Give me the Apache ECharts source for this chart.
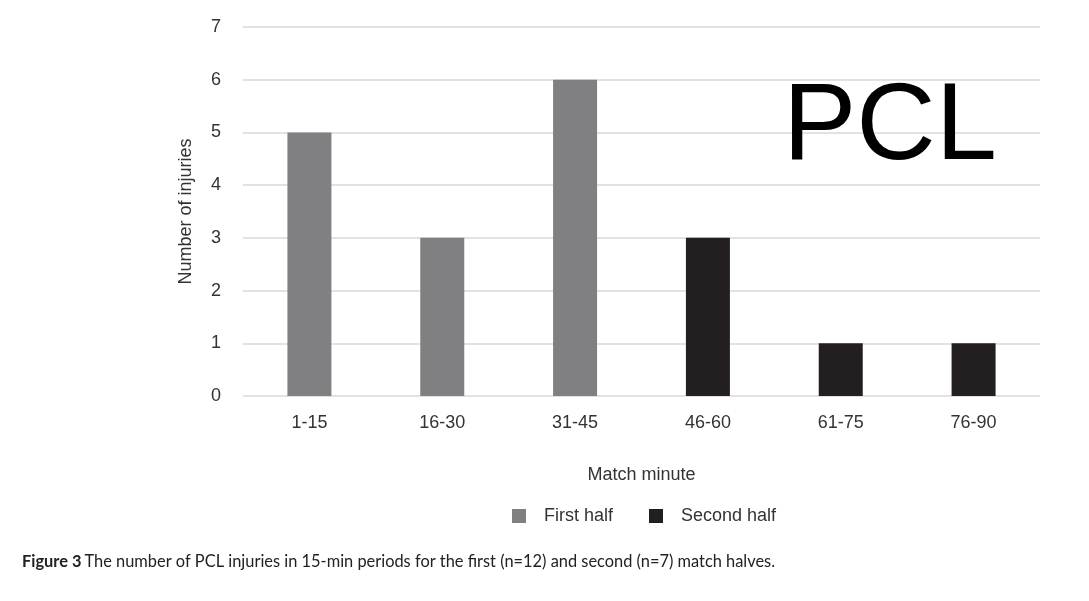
<!DOCTYPE html>
<html>
<head>
<meta charset="utf-8">
<script src="https://cdn.jsdelivr.net/npm/echarts@6/dist/echarts.min.js"></script>
<style>
html,body{margin:0;padding:0;background:#fff;}
#chart{width:1089px;height:601px;}
</style>
</head>
<body>
<div id="chart"></div>
<script>
const categories = ['1-15', '16-30', '31-45', '46-60', '61-75', '76-90'];
const firstHalf = [5, 3, 6, null, null, null];
const secondHalf = [null, null, null, 3, 1, 1];
const yTicks = [0, 1, 2, 3, 4, 5, 6, 7];

const chart = echarts.init(document.getElementById('chart'), null, {renderer: 'canvas'});
chart.setOption({
  backgroundColor: '#ffffff',
  animation: false,
  textStyle: {fontFamily: 'Liberation Sans, Arial, sans-serif'},
  grid: {left: 243, right: 49, top: 27, bottom: 205},
  legend: {
    left: 507, top: 502,
    itemWidth: 14, itemHeight: 14, itemGap: 36,
    icon: 'rect',
    textStyle: {fontSize: 18, color: '#333333', padding: [0, 0, 0, 13]},
    data: ['First half', 'Second half']
  },
  xAxis: {
    type: 'category',
    data: categories,
    name: 'Match minute',
    nameLocation: 'middle',
    nameGap: 70,
    nameTextStyle: {fontSize: 18, color: '#333333'},
    axisLine: {show: false},
    axisTick: {show: false},
    axisLabel: {fontSize: 18, color: '#333333', margin: 18}
  },
  yAxis: {
    type: 'value',
    min: yTicks[0], max: yTicks[yTicks.length - 1], interval: 1,
    name: 'Number of injuries',
    nameLocation: 'middle',
    nameGap: 48,
    nameTextStyle: {fontSize: 18, color: '#333333'},
    axisLine: {show: false},
    axisTick: {show: false},
    axisLabel: {fontSize: 18, color: '#333333', margin: 22},
    splitLine: {lineStyle: {color: '#d9d9d9', width: 1.5}}
  },
  series: [
    {name: 'First half', type: 'bar', stack: 'all', data: firstHalf, barWidth: 44,
     itemStyle: {color: '#808082'}},
    {name: 'Second half', type: 'bar', stack: 'all', data: secondHalf, barWidth: 44,
     itemStyle: {color: '#231f20'}}
  ],
  graphic: [
    {type: 'text', left: 783, top: 74, z: 10,
     style: {text: 'PCL', fontSize: 110, fill: '#000000', fontFamily: 'Liberation Sans, Arial, sans-serif'}},
    {type: 'text', left: 22, top: 554,
     style: {rich: {b: {fontWeight: 'bold', fontSize: 16.4, fill: '#222', fontFamily: 'Lato, sans-serif'},
                    n: {fontSize: 16.4, fill: '#222', fontFamily: 'Lato, sans-serif'}},
       text: '{b|Figure 3} {n|The number of PCL injuries in 15-min periods for the first (n=12) and second (n=7) match halves.}',
       fontFamily: 'Lato, sans-serif'}}
  ]
});
</script>
</body>
</html>
